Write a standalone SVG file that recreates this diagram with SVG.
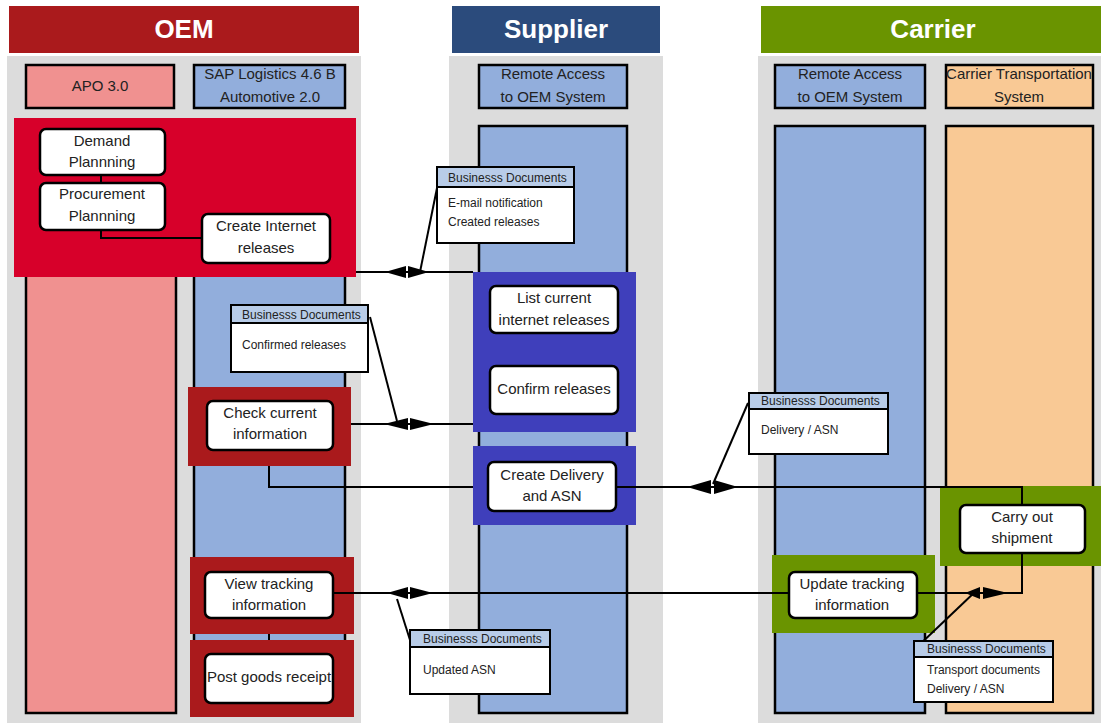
<svg xmlns="http://www.w3.org/2000/svg" width="1101" height="723" viewBox="0 0 1101 723">
<style>
text{font-family:"Liberation Sans",Arial,sans-serif;fill:#222}
.hdr{font-size:26px;font-weight:bold;fill:#fff;text-anchor:middle}
.col{stroke:#000;stroke-width:2.5}
.ct{font-size:15px;text-anchor:middle}
.node rect{fill:#fff;stroke:#000;stroke-width:2.5}
.nt{font-size:15px;text-anchor:middle}
.doc rect.b{fill:#fff;stroke:#000;stroke-width:2}
.doc rect.h{fill:#B8CCE8;stroke:#000;stroke-width:2}
.dt{font-size:12px}
.conn line,.conn polyline{stroke:#000;stroke-width:2;fill:none}
.conn polygon{fill:#000}
</style>
<rect width="1101" height="723" fill="#fff"/>
<!-- lanes -->
<g id="lanes">
<rect x="7" y="56" width="354" height="667" fill="#DCDCDC"/>
<rect x="449" y="56" width="214" height="667" fill="#DCDCDC"/>
<rect x="758" y="56" width="343" height="667" fill="#DCDCDC"/>
<rect x="9" y="6" width="350" height="47" fill="#AA1A1C"/>
<text class="hdr" x="184" y="38">OEM</text>
<rect x="452" y="6" width="208" height="47" fill="#2B4B7C"/>
<text class="hdr" x="556" y="38">Supplier</text>
<rect x="761" y="6" width="340" height="47" fill="#6A9400"/>
<text class="hdr" x="933" y="38">Carrier</text>
</g>
<!-- system columns -->
<g id="columns">
<rect class="col" x="26" y="65" width="148" height="43" fill="#F09190"/>
<text class="ct" x="100" y="91">APO 3.0</text>
<rect class="col" x="194" y="65" width="151" height="43" fill="#92AEDC"/>
<text class="ct" x="270" y="79">SAP Logistics 4.6 B</text>
<text class="ct" x="270" y="102">Automotive 2.0</text>
<rect class="col" x="479" y="65" width="148" height="43" fill="#92AEDC"/>
<text class="ct" x="553" y="79">Remote Access</text>
<text class="ct" x="553" y="102">to OEM System</text>
<rect class="col" x="775" y="65" width="150" height="43" fill="#92AEDC"/>
<text class="ct" x="850" y="79">Remote Access</text>
<text class="ct" x="850" y="102">to OEM System</text>
<rect class="col" x="946" y="65" width="147" height="43" fill="#F9C995"/>
<text class="ct" x="1019" y="79">Carrier Transportation</text>
<text class="ct" x="1019" y="102">System</text>
<rect class="col" x="26" y="125" width="150" height="588" fill="#F09190"/>
<rect class="col" x="194" y="125" width="151" height="588" fill="#92AEDC"/>
<rect class="col" x="479" y="126" width="148" height="587" fill="#92AEDC"/>
<rect class="col" x="775" y="126" width="150" height="587" fill="#92AEDC"/>
<rect class="col" x="946" y="126" width="147" height="587" fill="#F9C995"/>
</g>
<!-- group highlight boxes -->
<g id="highlights">
<rect x="14" y="118" width="342" height="159" fill="#D7002A"/>
<rect x="188" y="387" width="163" height="79" fill="#AA1A1C"/>
<rect x="190" y="557" width="164" height="77" fill="#AA1A1C"/>
<rect x="190" y="640" width="164" height="77" fill="#AA1A1C"/>
<rect x="473" y="272" width="163" height="160" fill="#3F3FBB"/>
<rect x="473" y="446" width="163" height="79" fill="#3F3FBB"/>
<rect x="772" y="555" width="163" height="78" fill="#6A9400"/>
<rect x="940" y="486" width="161" height="80" fill="#6A9400"/>
</g>
<!-- connectors -->
<g class="conn" id="connectors">
<line x1="101" y1="175" x2="101" y2="183"/>
<polyline points="101,230 101,238 202,238"/>
<line x1="356" y1="272" x2="473" y2="272"/>
<polygon points="385,272 406,266 406,278"/><polygon points="429,272 408,266 408,278"/>
<line x1="351" y1="424" x2="473" y2="424"/>
<polygon points="384,424 408,418 408,430"/><polygon points="434,424 410,418 410,430"/>
<polyline points="269,466 269,487 473,487"/>
<polyline points="616,487 1022,487 1022,505"/>
<polygon points="687,487 711,480 711,494"/><polygon points="738,487 714,480 714,494"/>
<line x1="269" y1="634" x2="269" y2="640"/>
<line x1="333" y1="593" x2="789" y2="593"/>
<polygon points="387,593 408,587 408,599"/><polygon points="433,593 410,587 410,599"/>
<polyline points="917,593 1022,593 1022,553"/>
<polygon points="965,593 980,587 980,599"/><polygon points="1008,593 983,587 983,599"/>
<line x1="437" y1="188" x2="420" y2="272"/>
<line x1="370" y1="317" x2="397" y2="421"/>
<line x1="748" y1="403" x2="713" y2="484"/>
<line x1="410" y1="640" x2="397" y2="599"/>
<line x1="915" y1="649" x2="977" y2="590"/>
</g>
<!-- process nodes -->
<g class="node" id="demand-planning"><rect x="40" y="129" width="125" height="46" rx="6"/><text class="nt" x="102" y="146">Demand</text><text class="nt" x="102" y="167">Plannning</text></g>
<g class="node" id="procurement-planning"><rect x="40" y="183" width="125" height="47" rx="6"/><text class="nt" x="102" y="199">Procurement</text><text class="nt" x="102" y="221">Plannning</text></g>
<g class="node" id="create-internet-releases"><rect x="202" y="214" width="128" height="49" rx="6"/><text class="nt" x="266" y="231">Create Internet</text><text class="nt" x="266" y="253">releases</text></g>
<g class="node" id="list-current-releases"><rect x="490" y="286" width="128" height="47" rx="6"/><text class="nt" x="554" y="303">List current</text><text class="nt" x="554" y="325">internet releases</text></g>
<g class="node" id="confirm-releases"><rect x="490" y="366" width="128" height="48" rx="6"/><text class="nt" x="554" y="394">Confirm releases</text></g>
<g class="node" id="check-current-information"><rect x="207" y="401" width="126" height="49" rx="6"/><text class="nt" x="270" y="418">Check current</text><text class="nt" x="270" y="439">information</text></g>
<g class="node" id="create-delivery-asn"><rect x="488" y="462" width="128" height="49" rx="6"/><text class="nt" x="552" y="480">Create Delivery</text><text class="nt" x="552" y="501">and ASN</text></g>
<g class="node" id="carry-out-shipment"><rect x="960" y="505" width="125" height="48" rx="6"/><text class="nt" x="1022" y="522">Carry out</text><text class="nt" x="1022" y="543">shipment</text></g>
<g class="node" id="update-tracking"><rect x="789" y="572" width="128" height="46" rx="6"/><text class="nt" x="852" y="589">Update tracking</text><text class="nt" x="852" y="610">information</text></g>
<g class="node" id="view-tracking"><rect x="205" y="572" width="128" height="46" rx="6"/><text class="nt" x="269" y="589">View tracking</text><text class="nt" x="269" y="610">information</text></g>
<g class="node" id="post-goods-receipt"><rect x="205" y="654" width="128" height="49" rx="6"/><text class="nt" x="269" y="682">Post goods receipt</text></g>
<!-- business document callouts -->
<g class="doc" id="doc-created-releases"><rect class="b" x="437" y="167" width="137" height="76"/><rect class="h" x="437" y="167" width="137" height="20"/><text class="dt" x="448" y="182">Businesss Documents</text><text class="dt" x="448" y="207">E-mail notification</text><text class="dt" x="448" y="226">Created releases</text></g>
<g class="doc" id="doc-confirmed-releases"><rect class="b" x="231" y="305" width="137" height="67"/><rect class="h" x="231" y="305" width="137" height="18"/><text class="dt" x="242" y="319">Businesss Documents</text><text class="dt" x="242" y="349">Confirmed releases</text></g>
<g class="doc" id="doc-delivery-asn"><rect class="b" x="749" y="393" width="139" height="61"/><rect class="h" x="749" y="393" width="139" height="16"/><text class="dt" x="761" y="405">Businesss Documents</text><text class="dt" x="761" y="434">Delivery / ASN</text></g>
<g class="doc" id="doc-updated-asn"><rect class="b" x="410" y="630" width="140" height="64"/><rect class="h" x="410" y="630" width="140" height="17"/><text class="dt" x="423" y="643">Businesss Documents</text><text class="dt" x="423" y="674">Updated ASN</text></g>
<g class="doc" id="doc-transport"><rect class="b" x="914" y="641" width="139" height="61"/><rect class="h" x="914" y="641" width="139" height="16"/><text class="dt" x="927" y="653">Businesss Documents</text><text class="dt" x="927" y="674">Transport documents</text><text class="dt" x="927" y="693">Delivery / ASN</text></g>
</svg>
